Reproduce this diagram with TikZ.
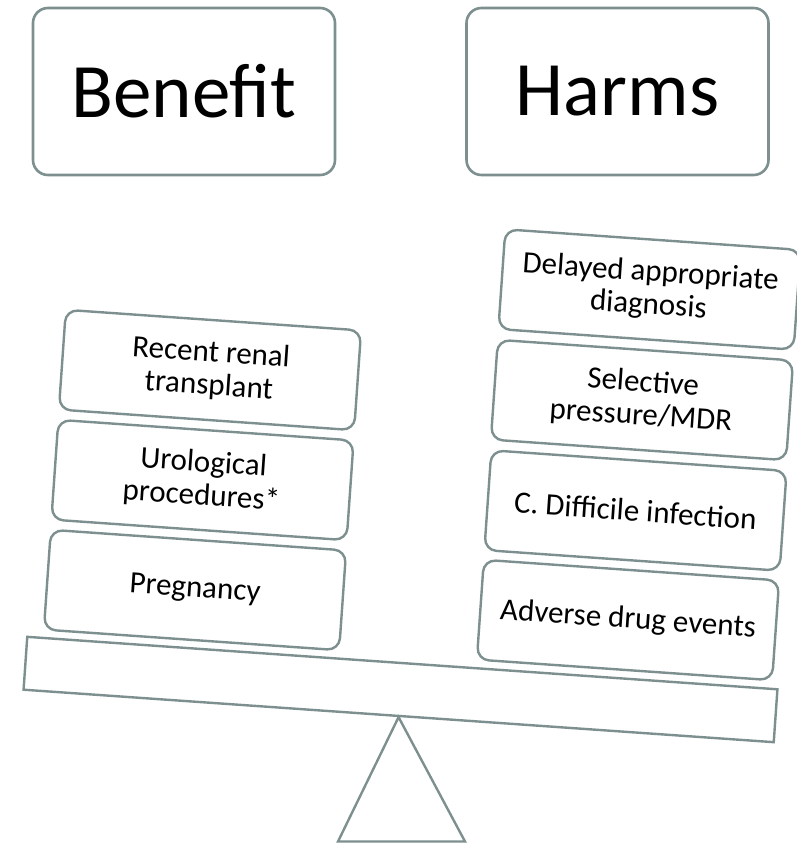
\documentclass[tikz,border=0pt]{standalone}
\usepackage{fontspec}
\setmainfont{Carlito}
\definecolor{edge}{RGB}{125,143,143}
\tikzset{
  title/.style={draw=edge, line width=2.6pt, fill=white, rounded corners=15pt,
    minimum width=302pt, minimum height=167pt, inner sep=0pt,
    font=\fontsize{77}{90}\selectfont},
  weight/.style={draw=edge, line width=2.4pt, fill=white, rounded corners=12pt,
    minimum width=296pt, minimum height=100pt, inner sep=0pt, align=center,
    rotate=-4, font=\fontsize{31}{33}\selectfont},
  plank/.style={draw=edge, line width=2.4pt, fill=white,
    minimum width=752pt, minimum height=53pt, inner sep=0pt, rotate=-4},
}
\begin{document}
\begin{tikzpicture}[x=1pt, y=-1pt]
  \useasboundingbox (0,0) rectangle (796,843);

  % headings
  \node[title] (benefit) at (184,91.5) {Benefit};
  \node[title] (harms) at (617.5,91.5) {Harms};

  % fulcrum and beam
  \node[plank] (beam) at (400.5,689.5) {};
  \coordinate (footL) at (338,841.5);
  \coordinate (footR) at (465,841.5);
  \draw[edge, line width=2.4pt, line join=miter] (beam.south) -- (footL) -- (footR) -- cycle;

  % left pan
  \node[weight] (preg) at (195,590) {Pregnancy};
  \node[weight] (uro) at (202.5,480) {Urological\\procedures*};
  \node[weight] (renal) at (210,370) {Recent renal\\transplant};

  % right pan
  \node[weight] (ade) at (628,620) {Adverse drug events};
  \node[weight] (cdiff) at (635.5,510.5) {C. Difficile infection};
  \node[weight] (mdr) at (642,400) {Selective\\pressure/MDR};
  \node[weight] (delay) at (649.5,289.5) {Delayed appropriate\\diagnosis};
\end{tikzpicture}
\end{document}
